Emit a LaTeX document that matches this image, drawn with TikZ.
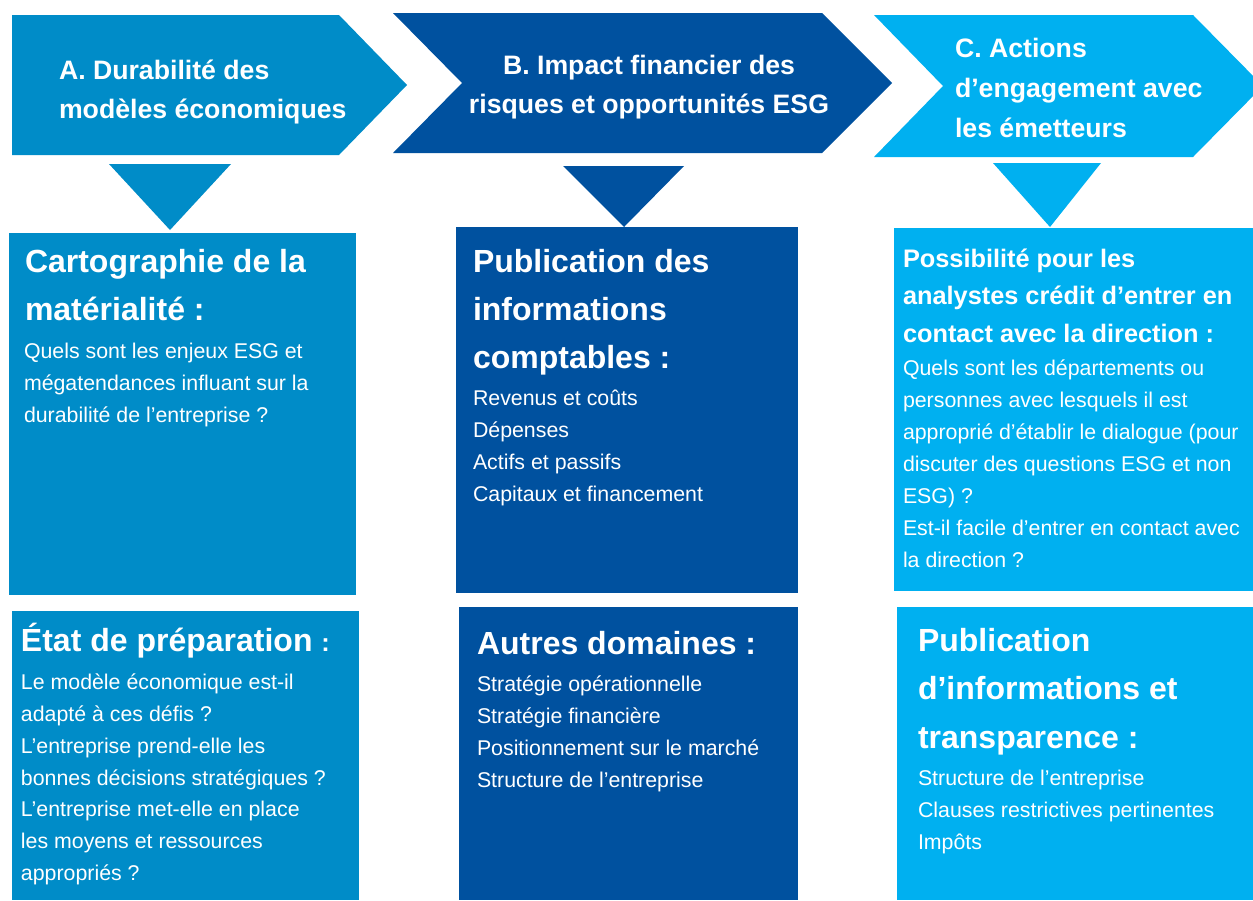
\documentclass[tikz,border=0pt]{standalone}
\usepackage{fontspec}
\setmainfont{Liberation Sans}
\definecolor{colA}{RGB}{0,140,200}
\definecolor{colB}{RGB}{0,81,159}
\definecolor{colC}{RGB}{0,176,240}
% multi-line text nodes are placed by the baseline of their last line
\tikzset{
  txt/.style={text=white, inner sep=0pt, outer sep=0pt, anchor=base west, align=left},
  chevtitle/.style={txt, font=\fontsize{20}{29.25}\selectfont\bfseries},
  boxhead/.style={txt, font=\fontsize{24}{36}\selectfont\bfseries},
  boxbody/.style={txt, font=\fontsize{16}{24}\selectfont},
}
\begin{document}
\begin{tikzpicture}[x=0.75pt,y=-0.75pt]
\clip (0,0) rectangle (1253,900);
\fill[white] (0,0) rectangle (1253,900);

% top chevrons
\fill[colA] (12,15) -- (339,15) -- (407,85) -- (339,155) -- (12,155) -- cycle;
\fill[colB] (393,13) -- (822,13) -- (892,83) -- (822,153) -- (393,153) -- (462,83) -- cycle;
\fill[colC] (874,15) -- (1193,15) -- (1263,86) -- (1193,157) -- (874,157) -- (943,86) -- cycle;

% downward pointers
\fill[colA] (109,164) -- (231,164) -- (170,230) -- cycle;
\fill[colB] (563,166) -- (684,166) -- (624,227) -- cycle;
\fill[colC] (993,163) -- (1101,163) -- (1050,227) -- cycle;

% content boxes
\fill[colA] (9,233) rectangle (356,595);
\fill[colB] (456,227) rectangle (798,593);
\fill[colC] (894,228) rectangle (1253,591);
\fill[colA] (12,611) rectangle (359,900);
\fill[colB] (459,607) rectangle (798,900);
\fill[colC] (897,607) rectangle (1253,900);

% chevron titles
\node[chevtitle] (ta) at (59,118) {A. Durabilité des\\modèles économiques};
\node[chevtitle, anchor=base, align=center] (tb) at (649,113) {B. Impact financier des\\risques et opportunités ESG};
\node[chevtitle, font=\fontsize{20}{30}\selectfont\bfseries] (tc) at (955,137.5) {C. Actions\\d’engagement avec\\les émetteurs};

% column A
\node[boxhead] (a1h) at (25,320.5) {Cartographie de la\\matérialité :};
\node[boxbody] (a1b) at (24,422.5) {Quels sont les enjeux ESG et\\mégatendances influant sur la\\durabilité de l’entreprise ?};
\node[boxhead] (a2h) at (21,651.5) {État de préparation {\fontsize{19}{24}\selectfont :}};
\node[boxbody, font=\fontsize{16}{23.85}\selectfont] (a2b) at (21,880.4) {Le modèle économique est-il\\adapté à ces défis ?\\L’entreprise prend-elle les\\bonnes décisions stratégiques ?\\L’entreprise met-elle en place\\les moyens et ressources\\appropriés ?};

% column B
\node[boxhead] (b1h) at (473,368.5) {Publication des\\informations\\comptables :};
\node[boxbody] (b1b) at (473,501.6) {Revenus et coûts\\Dépenses\\Actifs et passifs\\Capitaux et financement};
\node[boxhead] (b2h) at (477,654.5) {Autres domaines :};
\node[boxbody] (b2b) at (477,787.6) {Stratégie opérationnelle\\Stratégie financière\\Positionnement sur le marché\\Structure de l’entreprise};

% column C
\node[boxhead, font=\fontsize{19}{28.1}\selectfont\bfseries] (c1h) at (903,342) {Possibilité pour les\\analystes crédit d’entrer en\\contact avec la direction :};
\node[boxbody] (c1b) at (903,567.6) {Quels sont les départements ou\\personnes avec lesquels il est\\approprié d’établir le dialogue (pour\\discuter des questions ESG et non\\ESG) ?\\Est-il facile d’entrer en contact avec\\la direction ?};
\node[boxhead, font=\fontsize{24}{36.4}\selectfont\bfseries] (c2h) at (918,748.5) {Publication\\d’informations et\\transparence :};
\node[boxbody] (c2b) at (918,849.6) {Structure de l’entreprise\\Clauses restrictives pertinentes\\Impôts};
\end{tikzpicture}
\end{document}
